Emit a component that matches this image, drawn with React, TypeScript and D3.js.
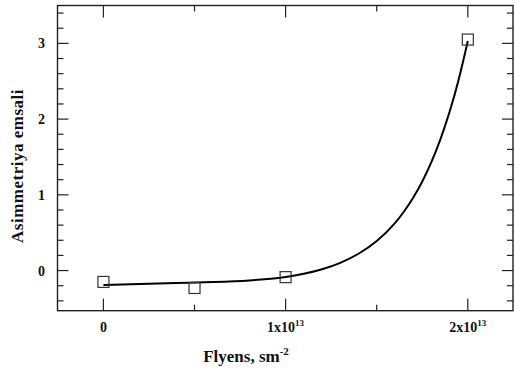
import React from "react";
import * as d3 from "d3";

// measured points (x in units of 1e13 sm^-2)
const measuredX = [0, 0.5, 1, 2];
const measuredY = [-0.15, -0.23, -0.087, 3.05];

// fitted curve
const fitX = [0, 0.2, 0.4, 0.6, 0.8, 0.9, 1.0, 1.1, 1.2, 1.3, 1.4, 1.5, 1.6, 1.65, 1.7, 1.75, 1.8, 1.85, 1.9, 1.95, 2.0];
const fitY = [-0.19, -0.177, -0.165, -0.152, -0.13, -0.112, -0.086, -0.043, 0.017, 0.102, 0.222, 0.39, 0.627, 0.78, 0.961, 1.177, 1.432, 1.736, 2.096, 2.524, 3.03];

const xMajor = [0, 1, 2];
const xMajorLabels = ["0", "1x10", "2x10"];
const xMajorExp = ["", "13", "13"];
const xMinor = [0.5, 1.5];
const yMajor = [0, 1, 2, 3];
const yMinor = [-0.4, -0.2, 0.2, 0.4, 0.6, 0.8, 1.2, 1.4, 1.6, 1.8, 2.2, 2.4, 2.6, 2.8, 3.2, 3.4];

const W = 515, H = 372;
const L = 57.5, R = 513, T = 5.5, B = 310.7;

export default function App() {
  const x = d3.scaleLinear().domain([-0.252, 2.248]).range([L, R]);
  const y = d3.scaleLinear().domain([-0.53, 3.5]).range([B, T]);
  const line = d3.line<number>()
    .x((_, i) => x(fitX[i]))
    .y((d) => y(d))
    .curve(d3.curveMonotoneX);
  const font = "'Liberation Serif', 'Times New Roman', serif";
  const ax = "#222";
  return (
    <svg width={W} height={H} style={{ position: "absolute", left: 0, top: 0 }} fontFamily={font}>
      <rect x={0} y={0} width={W} height={H} fill="#fff" />
      {/* ticks */}
      <g stroke={ax} strokeWidth={1.2}>
        {xMajor.map((v) => (
          <g key={"xm" + v}>
            <line x1={x(v)} x2={x(v)} y1={B} y2={B - 12} />
            <line x1={x(v)} x2={x(v)} y1={T} y2={T + 12} />
          </g>
        ))}
        {xMinor.map((v) => (
          <g key={"xn" + v}>
            <line x1={x(v)} x2={x(v)} y1={B} y2={B - 6} />
            <line x1={x(v)} x2={x(v)} y1={T} y2={T + 6} />
          </g>
        ))}
        {yMajor.map((v) => (
          <g key={"ym" + v}>
            <line x1={L} x2={L + 11} y1={y(v)} y2={y(v)} />
            <line x1={R} x2={R - 11} y1={y(v)} y2={y(v)} />
          </g>
        ))}
        {yMinor.map((v) => (
          <g key={"yn" + v}>
            <line x1={L} x2={L + 6} y1={y(v)} y2={y(v)} />
            <line x1={R} x2={R - 6} y1={y(v)} y2={y(v)} />
          </g>
        ))}
      </g>
      <rect x={L} y={T} width={R - L} height={B - T} fill="none" stroke={ax} strokeWidth={1.4} />
      {/* tick labels */}
      <g fontWeight="bold" fontSize={14} fill="#111">
        {xMajor.map((v, i) => (
          <text key={"xl" + v} x={x(v)} y={332} textAnchor="middle">
            {xMajorLabels[i]}
            {xMajorExp[i] && (
              <tspan fontSize={9} dy={-6}>{xMajorExp[i]}</tspan>
            )}
          </text>
        ))}
        {yMajor.map((v) => (
          <text key={"yl" + v} x={45} y={y(v) + 5} textAnchor="end">{v}</text>
        ))}
      </g>
      {/* axis titles */}
      <text x={246} y={362} textAnchor="middle" fontWeight="bold" fontSize={17} fill="#111">
        Flyens, sm<tspan fontSize={11} dy={-7}>-2</tspan>
      </text>
      <text transform={`translate(23,166) rotate(-90)`} textAnchor="middle" fontWeight="bold" fontSize={17} letterSpacing={0.5} fill="#111">
        Asimmetriya emsali
      </text>
      {/* fit curve */}
      <path d={line(fitY) || ""} fill="none" stroke="#000" strokeWidth={2} />
      {/* measured squares */}
      <g fill="none" stroke="#333" strokeWidth={1.2}>
        {measuredX.map((v, i) => (
          <rect key={"p" + i} x={x(v) - 5.5} y={y(measuredY[i]) - 5.5} width={11} height={11} />
        ))}
      </g>
    </svg>
  );
}
